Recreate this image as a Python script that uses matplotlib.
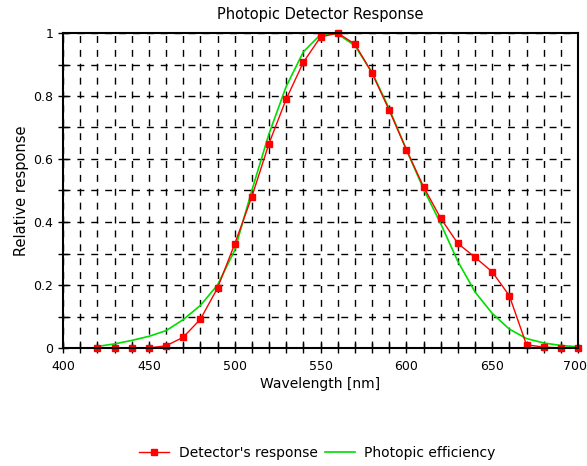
import matplotlib
matplotlib.use("Agg")
import matplotlib.pyplot as plt
from matplotlib.ticker import MultipleLocator, FuncFormatter

wavelength = [420, 430, 440, 450, 460, 470, 480, 490, 500, 510, 520, 530, 540, 550,
              560, 570, 580, 590, 600, 610, 620, 630, 640, 650, 660, 670, 680, 690, 700]
detector = [0.0, 0.0, 0.0, 0.0, 0.007, 0.034, 0.091, 0.19, 0.33, 0.48, 0.649, 0.79, 0.907, 0.987,
            1.0, 0.965, 0.873, 0.755, 0.63, 0.512, 0.412, 0.332, 0.288, 0.242, 0.166, 0.01, 0.003, 0.0, 0.0]
photopic = [0.005, 0.013, 0.024, 0.037, 0.055, 0.09, 0.135, 0.2, 0.31, 0.5, 0.68, 0.83, 0.94, 0.995,
            0.997, 0.96, 0.875, 0.76, 0.63, 0.505, 0.395, 0.275, 0.178, 0.11, 0.06, 0.03, 0.016, 0.008, 0.004]
x_ticks = [400, 450, 500, 550, 600, 650, 700]

title = "Photopic Detector Response"
xlabel = "Wavelength [nm]"
ylabel = "Relative response"
label_det = "Detector's response"
label_phot = "Photopic efficiency"

plt.rcParams['font.family'] = ['DejaVu Sans']
fig = plt.figure(figsize=(5.87, 4.66), dpi=100)
ax = fig.add_axes([63/587, 1 - 348/466, 515/587, 315/466])

ax.plot(wavelength, detector, color='#ff0000', lw=1, marker='s', ms=4.5,
        label=label_det, clip_on=False, zorder=4)
ax.plot(wavelength, photopic, color='#00dd00', lw=1.2, label=label_phot, zorder=3)

ax.set_xlim(x_ticks[0], x_ticks[-1])
ax.set_ylim(0, 1)
ax.set_xticks(x_ticks)
# last x tick label is drawn separately, nudged left so it stays inside the figure
ax.set_xticklabels([str(t) for t in x_ticks[:-1]] + [''])
ax.xaxis.set_minor_locator(MultipleLocator(10))
ax.yaxis.set_major_locator(MultipleLocator(0.2))
ax.yaxis.set_minor_locator(MultipleLocator(0.1))
ax.yaxis.set_major_formatter(FuncFormatter(lambda v, p: ('%g' % round(v, 1))))
ax.tick_params(which='both', direction='inout', length=7, width=1, colors='black',
               labelsize=9)
ax.tick_params(axis='x', which='major', pad=5)
ax.annotate(str(x_ticks[-1]), xy=(x_ticks[-1], 0), xycoords=('data', 'axes fraction'),
            xytext=(-2.5, -8.5), textcoords='offset points', ha='center', va='top',
            fontsize=9, annotation_clip=False)
ax.grid(which='both', color='black', linestyle=(0, (5, 5)), linewidth=1)
for s in ax.spines.values():
    s.set_linewidth(1.5)
    s.set_zorder(5)

ax.set_title(title, fontsize=10.5, pad=10)
ax.set_xlabel(xlabel, fontsize=10, labelpad=3)
ax.set_ylabel(ylabel, fontsize=10.5, labelpad=3)

fig.legend(loc='center', bbox_to_anchor=(317.5/587, 1 - 453/466), ncol=2, frameon=False,
           fontsize=10, handlelength=2.16, columnspacing=0.5, handletextpad=0.7)

fig.savefig("out.png", dpi=100)
